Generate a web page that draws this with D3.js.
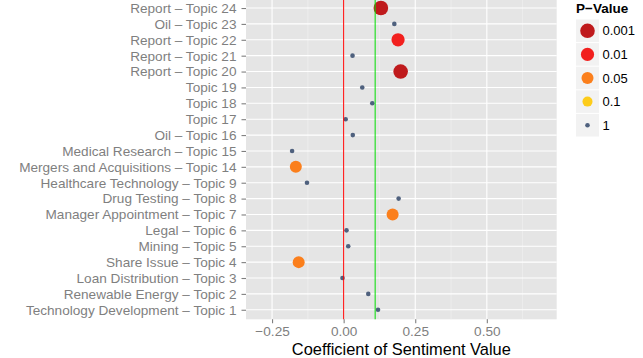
<!DOCTYPE html>
<html>
<head>
<meta charset="utf-8">
<script src="https://cdn.jsdelivr.net/npm/d3@7"></script>
<style>
  html, body { margin: 0; padding: 0; background: #ffffff; }
  svg { display: block; font-family: "Liberation Sans", Arial, sans-serif; }
</style>
</head>
<body>
<svg id="chart" width="643" height="358"></svg>
<script>
// ---- data (top to bottom) ----
const topics = [
  "Report \u2013 Topic 24", "Oil \u2013 Topic 23", "Report \u2013 Topic 22", "Report \u2013 Topic 21",
  "Report \u2013 Topic 20", "Topic 19", "Topic 18", "Topic 17", "Oil \u2013 Topic 16",
  "Medical Research \u2013 Topic 15", "Mergers and Acquisitions \u2013 Topic 14",
  "Healthcare Technology \u2013 Topic 9", "Drug Testing \u2013 Topic 8",
  "Manager Appointment \u2013 Topic 7", "Legal \u2013 Topic 6", "Mining \u2013 Topic 5",
  "Share Issue \u2013 Topic 4", "Loan Distribution \u2013 Topic 3",
  "Renewable Energy \u2013 Topic 2", "Technology Development \u2013 Topic 1"
];
const coefficients = [0.130, 0.177, 0.190, 0.031, 0.199, 0.065, 0.100, 0.007, 0.032, -0.180,
  -0.167, -0.128, 0.192, 0.171, 0.010, 0.016, -0.157, -0.004, 0.086, 0.120];
const pValues = ["0.001", "1", "0.01", "1", "0.001", "1", "1", "1", "1", "1",
  "0.05", "1", "1", "0.05", "1", "1", "0.05", "1", "1", "1"];
const pLevels = ["0.001", "0.01", "0.05", "0.1", "1"];
const pColors = ["#bf1a1c", "#f2201e", "#fb7f1c", "#fdcc1a", "#4f617e"];
const pRadii = [7.3, 6.6, 6.0, 5.0, 2.3];
const xTicks = [-0.25, 0, 0.25, 0.5];
const xMinor = [-0.125, 0.125, 0.375, 0.625];
const refZero = 0;
const refMean = 0.110;

// ---- layout ----
const svg = d3.select("#chart");
const panel = { left: 246, right: 556.7, top: -1.5, bottom: 319.3 };

const x = d3.scaleLinear().domain([-0.341, 0.744]).range([panel.left, panel.right]);
const y = d3.scalePoint().domain(topics).range([panel.top, panel.bottom]).padding(0.6);
const color = d3.scaleOrdinal().domain(pLevels).range(pColors);
const radius = d3.scaleOrdinal().domain(pLevels).range(pRadii);

// panel background
svg.append("rect")
  .attr("x", panel.left).attr("y", 0)
  .attr("width", panel.right - panel.left).attr("height", panel.bottom)
  .attr("fill", "#e5e5e5");

const grid = svg.append("g");
grid.selectAll("line.minor").data(xMinor).join("line")
  .attr("x1", d => x(d)).attr("x2", d => x(d))
  .attr("y1", 0).attr("y2", panel.bottom)
  .attr("stroke", "#f2f2f2").attr("stroke-width", 0.6);
grid.selectAll("line.majx").data(xTicks).join("line")
  .attr("x1", d => x(d)).attr("x2", d => x(d))
  .attr("y1", 0).attr("y2", panel.bottom)
  .attr("stroke", "#ffffff").attr("stroke-width", 1.1);
grid.selectAll("line.majy").data(topics).join("line")
  .attr("x1", panel.left).attr("x2", panel.right)
  .attr("y1", d => y(d)).attr("y2", d => y(d))
  .attr("stroke", "#ffffff").attr("stroke-width", 1.1);

// points
svg.append("g").selectAll("circle").data(topics).join("circle")
  .attr("cx", (d, i) => x(coefficients[i]))
  .attr("cy", d => y(d))
  .attr("r", (d, i) => radius(pValues[i]))
  .attr("fill", (d, i) => color(pValues[i]));

// reference lines
svg.append("line")
  .attr("x1", x(refZero)).attr("x2", x(refZero))
  .attr("y1", 0).attr("y2", panel.bottom)
  .attr("stroke", "#ff0000").attr("stroke-width", 1);
svg.append("line")
  .attr("x1", x(refMean)).attr("x2", x(refMean))
  .attr("y1", 0).attr("y2", panel.bottom)
  .attr("stroke", "#00dd00").attr("stroke-width", 1);

// y axis
const yAxis = svg.append("g")
  .attr("transform", `translate(${panel.left},0)`)
  .call(d3.axisLeft(y).tickSize(4.5).tickPadding(5));
yAxis.select(".domain").remove();
yAxis.selectAll(".tick line").attr("stroke", "#7f7f7f").attr("stroke-width", 1.1);
yAxis.selectAll(".tick text")
  .attr("fill", "#7f7f7f").attr("font-size", 13.6)
  .attr("font-family", "'Liberation Sans', Arial, sans-serif");

// x axis
const xAxis = svg.append("g")
  .attr("transform", `translate(0,${panel.bottom})`)
  .call(d3.axisBottom(x).tickValues(xTicks).tickFormat(d3.format(".2f")).tickSize(4).tickPadding(3));
xAxis.select(".domain").remove();
xAxis.selectAll(".tick line").attr("stroke", "#7f7f7f").attr("stroke-width", 1.1);
xAxis.selectAll(".tick text")
  .text(d => d3.format(".2f")(d).replace("-", "\u2212"))
  .attr("fill", "#7f7f7f").attr("font-size", 13.6)
  .attr("font-family", "'Liberation Sans', Arial, sans-serif");

// x title
svg.append("text")
  .attr("x", (panel.left + panel.right) / 2).attr("y", 355)
  .attr("text-anchor", "middle")
  .attr("font-size", 16.4).attr("fill", "#000000")
  .text("Coefficient of Sentiment Value");

// legend
const legend = svg.append("g");
legend.append("text")
  .attr("x", 576).attr("y", 13)
  .attr("font-size", 13.5).attr("font-weight", "bold").attr("fill", "#000")
  .text("P\u2212Value");
const keyTop = 19.5, keyH = 23.6, keyW = 23;
const keys = legend.selectAll("g.key").data(pLevels).join("g")
  .attr("transform", (d, i) => `translate(576,${keyTop + i * keyH})`);
keys.append("rect")
  .attr("width", keyW).attr("height", keyH - 1)
  .attr("fill", "#f2f2f2");
keys.append("circle")
  .attr("cx", keyW / 2).attr("cy", (keyH - 1) / 2)
  .attr("r", d => radius(d)).attr("fill", d => color(d));
keys.append("text")
  .attr("x", keyW + 3.5).attr("y", (keyH - 1) / 2).attr("dy", "0.36em")
  .attr("font-size", 13).attr("fill", "#000")
  .text(d => d);
</script>
</body>
</html>
